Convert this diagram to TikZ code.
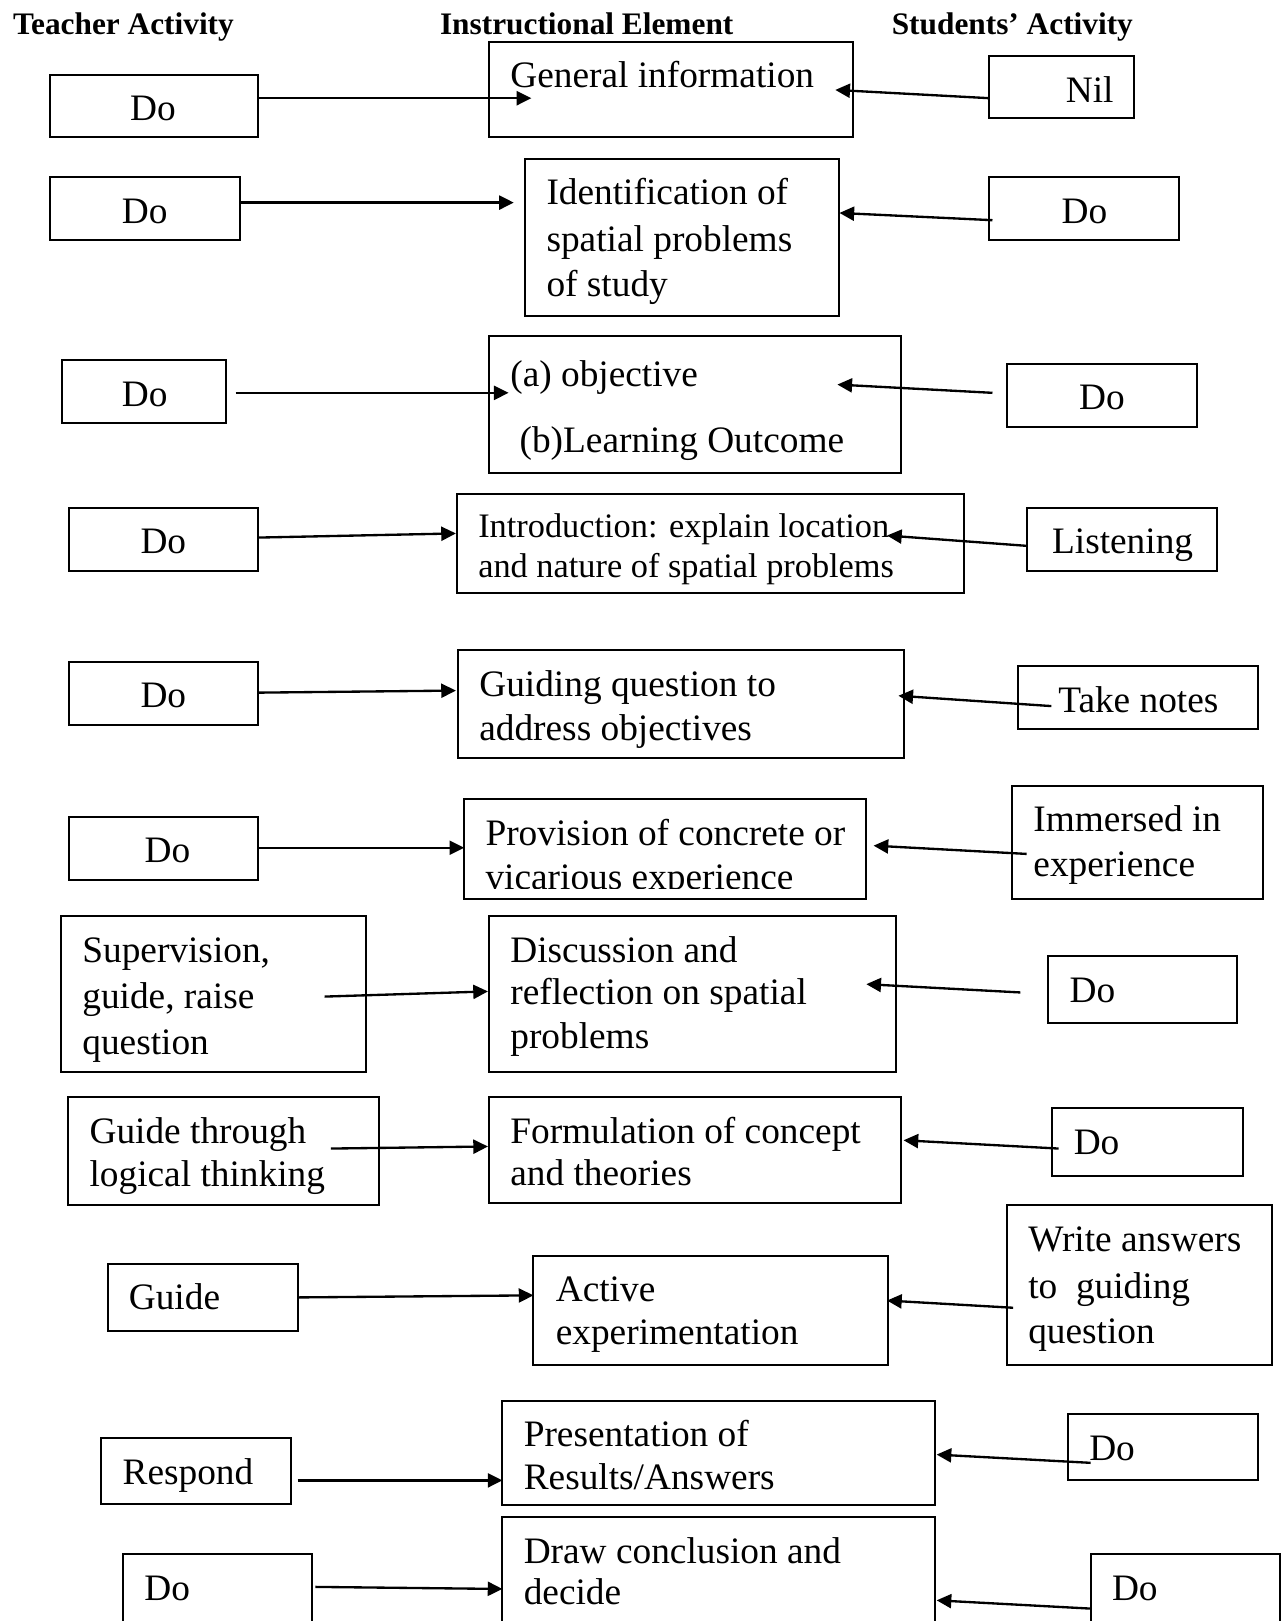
\documentclass[tikz,border=0pt]{standalone}
\usepackage{fontspec}
\setmainfont{Liberation Serif}
\usetikzlibrary{arrows.meta,fit}
\begin{document}
\begin{tikzpicture}[x=0.31014pt,y=-0.31014pt,
  box/.style={draw,line width=0.6pt,inner sep=0pt,rectangle},
  txt/.style={inner sep=0pt,anchor=base west,font=\fontsize{11.2}{13.5}\selectfont},
  ctxt/.style={txt,anchor=base},
  stxt/.style={txt,font=\fontsize{10.3}{12.4}\selectfont},
  head/.style={inner sep=0pt,anchor=base west,font=\fontsize{9.4}{11}\selectfont\bfseries},
  arr/.style={line width=0.7pt,-{Triangle[length=4.4pt,width=4.2pt]}}]
\clip (0,0) rectangle (1242,1568);
\fill[white] (0,0) rectangle (1242,1568);

% headings
\node[head] (h1) at (12,33) {Teacher Activity};
\node[head] (h2) at (425,33) {Instructional Element};
\node[head] (h3) at (862,33) {Students’ Activity};

% row 1
\node[box,fit={(48,73) (250,133)}] (L1) {};
\node[ctxt] (L1t) at (148,117) {Do};
\node[box,fit={(473,41) (825,133)}] (M1) {};
\node[txt] (M1t) at (493,85) {General information};
\node[box,fit={(957,54) (1097,114)}] (R1) {};
\node[ctxt] (R1t) at (1054,99) {Nil};
\coordinate (a1s) at (250,95); \coordinate (a1e) at (514,95);
\coordinate (b1s) at (957,95); \coordinate (b1e) at (808,87);
\draw[arr] (a1s) -- (a1e);
\draw[arr] (b1s) -- (b1e);

% row 2
\node[box,fit={(48,171) (232,232)}] (L2) {};
\node[ctxt] (L2t) at (140,216) {Do};
\node[box,fit={(508,154) (812,306)}] (M2) {};
\node[txt] (M2a) at (528,198) {Identification of};
\node[txt] (M2b) at (528,243) {spatial problems};
\node[txt] (M2c) at (528,287) {of study};
\node[box,fit={(957,171) (1140,232)}] (R2) {};
\node[ctxt] (R2t) at (1049,216) {Do};
\coordinate (a2s) at (232,196); \coordinate (a2e) at (497,196);
\coordinate (b2s) at (960,213); \coordinate (b2e) at (812,206);
\draw[arr] (a2s) -- (a2e);
\draw[arr] (b2s) -- (b2e);

% row 3
\node[box,fit={(60,348) (219,409)}] (L3) {};
\node[ctxt] (L3t) at (140,393) {Do};
\node[box,fit={(473,325) (872,458)}] (M3) {};
\node[txt] (M3a) at (493,374) {(a) objective};
\node[txt] (M3b) at (502,438) {(b)Learning Outcome};
\node[box,fit={(974,352) (1158,413)}] (R3) {};
\node[ctxt] (R3t) at (1066,396) {Do};
\coordinate (a3s) at (228,380); \coordinate (a3e) at (492,380);
\coordinate (b3s) at (960,380); \coordinate (b3e) at (810,372);
\draw[arr] (a3s) -- (a3e);
\draw[arr] (b3s) -- (b3e);

% row 4
\node[box,fit={(67,491) (250,552)}] (L4) {};
\node[ctxt] (L4t) at (158,535) {Do};
\node[box,fit={(442,478) (932,574)}] (M4) {};
\node[stxt] (M4a) at (462,520) {Introduction: explain location};
\node[stxt] (M4b) at (462,559) {and nature of spatial problems};
\node[box,fit={(993,491) (1177,552)}] (R4) {};
\node[txt] (R4t) at (1017,535) {Listening};
\coordinate (a4s) at (250,520); \coordinate (a4e) at (441,516);
\coordinate (b4s) at (993,528); \coordinate (b4e) at (858,518);
\draw[arr] (a4s) -- (a4e);
\draw[arr] (b4s) -- (b4e);

% row 5
\node[box,fit={(67,640) (250,701)}] (L5) {};
\node[ctxt] (L5t) at (158,684) {Do};
\node[box,fit={(443,629) (874,733)}] (M5) {};
\node[txt] (M5a) at (463,674) {Guiding question to};
\node[txt] (M5b) at (463,716) {address objectives};
\node[box,fit={(985,644) (1217,705)}] (R5) {};
\node[txt] (R5t) at (1023,689) {Take notes};
\coordinate (a5s) at (250,670); \coordinate (a5e) at (441,668);
\coordinate (b5s) at (1017,683); \coordinate (b5e) at (869,673);
\draw[arr] (a5s) -- (a5e);
\draw[arr] (b5s) -- (b5e);

% row 6
\node[box,fit={(67,790) (250,851)}] (L6) {};
\node[ctxt] (L6t) at (162,834) {Do};
\node[box,fit={(449,773) (838,870)}] (M6) {};
\begin{scope}
  \clip (449,773) rectangle (838,859);
  \node[txt] (M6a) at (469,818) {Provision of concrete or};
  \node[txt] (M6b) at (469,860) {vicarious experience};
\end{scope}
\node[box,fit={(979,760) (1222,870)}] (R6) {};
\node[txt] (R6a) at (999,804) {Immersed in};
\node[txt] (R6b) at (999,848) {experience};
\coordinate (a6s) at (250,820); \coordinate (a6e) at (449,820);
\coordinate (b6s) at (993,826); \coordinate (b6e) at (845,818);
\draw[arr] (a6s) -- (a6e);
\draw[arr] (b6s) -- (b6e);

% row 7
\node[box,fit={(59,886) (354,1037)}] (L7) {};
\node[txt] (L7a) at (79,931) {Supervision,};
\node[txt] (L7b) at (79,976) {guide, raise};
\node[txt] (L7c) at (79,1020) {question};
\node[box,fit={(473,886) (867,1037)}] (M7) {};
\node[txt] (M7a) at (493,931) {Discussion and};
\node[txt] (M7b) at (493,972) {reflection on spatial};
\node[txt] (M7c) at (493,1014) {problems};
\node[box,fit={(1014,925) (1197,990)}] (R7) {};
\node[txt] (R7t) at (1034,970) {Do};
\coordinate (a7s) at (314,964); \coordinate (a7e) at (472,959);
\coordinate (b7s) at (987,960); \coordinate (b7e) at (838,952);
\draw[arr] (a7s) -- (a7e);
\draw[arr] (b7s) -- (b7e);

% row 8
\node[box,fit={(66,1061) (367,1166)}] (L8) {};
\node[txt] (L8a) at (86,1106) {Guide through};
\node[txt] (L8b) at (86,1148) {logical thinking};
\node[box,fit={(473,1061) (872,1164)}] (M8) {};
\node[txt] (M8a) at (493,1106) {Formulation of concept};
\node[txt] (M8b) at (493,1147) {and theories};
\node[box,fit={(1018,1072) (1202,1138)}] (R8) {};
\node[txt] (R8t) at (1038,1117) {Do};
\coordinate (a8s) at (320,1111); \coordinate (a8e) at (472,1109);
\coordinate (b8s) at (1024,1111); \coordinate (b8e) at (874,1103);
\draw[arr] (a8s) -- (a8e);
\draw[arr] (b8s) -- (b8e);

% row 9
\node[box,fit={(104,1223) (288,1287)}] (L9) {};
\node[txt] (L9t) at (124,1267) {Guide};
\node[box,fit={(516,1215) (859,1320)}] (M9) {};
\node[txt] (M9a) at (537,1259) {Active};
\node[txt] (M9b) at (537,1301) {experimentation};
\node[box,fit={(974,1166) (1230,1320)}] (R9) {};
\node[txt] (R9a) at (994,1211) {Write answers};
\node[txt] (R9b) at (994,1256) {to\ \ guiding};
\node[txt] (R9c) at (994,1300) {question};
\coordinate (a9s) at (288,1255); \coordinate (a9e) at (516,1253);
\coordinate (b9s) at (980,1265); \coordinate (b9e) at (858,1258);
\draw[arr] (a9s) -- (a9e);
\draw[arr] (b9s) -- (b9e);

% row 10
\node[box,fit={(98,1391) (281,1455)}] (L10) {};
\node[txt] (L10t) at (118,1436) {Respond};
\node[box,fit={(486,1355) (904,1456)}] (M10) {};
\node[txt] (M10a) at (506,1399) {Presentation of};
\node[txt] (M10b) at (506,1441) {Results/Answers};
\node[box,fit={(1033,1368) (1217,1432)}] (R10) {};
\node[txt] (R10t) at (1053,1413) {Do};
\coordinate (a10s) at (288,1432); \coordinate (a10e) at (486,1432);
\coordinate (b10s) at (1055,1415); \coordinate (b10e) at (906,1407);
\draw[arr] (a10s) -- (a10e);
\draw[arr] (b10s) -- (b10e);

% row 11
\node[box,fit={(119,1503) (302,1600)}] (L11) {};
\node[txt] (L11t) at (139,1548) {Do};
\node[box,fit={(486,1467) (904,1600)}] (M11) {};
\node[txt] (M11a) at (506,1512) {Draw conclusion and};
\node[txt] (M11b) at (506,1552) {decide};
\node[box,fit={(1055,1503) (1238,1600)}] (R11) {};
\node[txt] (R11t) at (1075,1548) {Do};
\coordinate (a11s) at (305,1535); \coordinate (a11e) at (486,1537);
\coordinate (b11s) at (1055,1556); \coordinate (b11e) at (906,1548);
\draw[arr] (a11s) -- (a11e);
\draw[arr] (b11s) -- (b11e);
\end{tikzpicture}
\end{document}
